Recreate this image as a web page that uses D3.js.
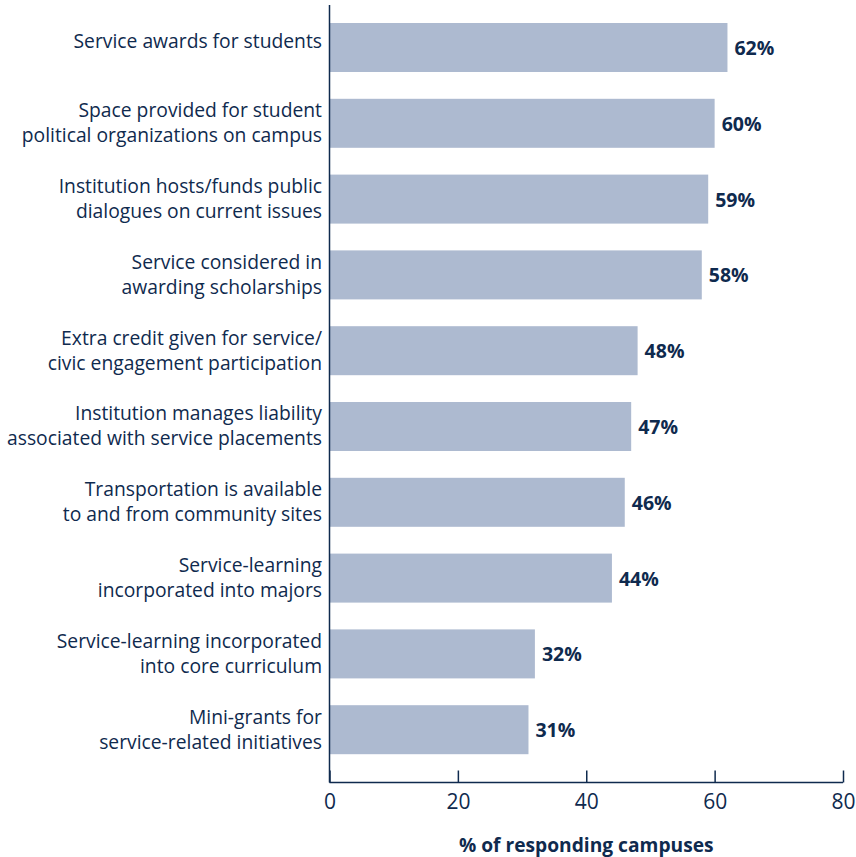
<!DOCTYPE html>
<html><head><meta charset="utf-8">
<script src="https://cdn.jsdelivr.net/npm/d3@7"></script>
<style>body{margin:0;background:#fff}svg{display:block}text{font-family:"Open Sans",sans-serif}</style>
</head><body><div id="chart"></div>
<script>
const categories = [
  ["Service awards for students"],
  ["Space provided for student", "political organizations on campus"],
  ["Institution hosts/funds public", "dialogues on current issues"],
  ["Service considered in", "awarding scholarships"],
  ["Extra credit given for service/", "civic engagement participation"],
  ["Institution manages liability", "associated with service placements"],
  ["Transportation is available", "to and from community sites"],
  ["Service-learning", "incorporated into majors"],
  ["Service-learning incorporated", "into core curriculum"],
  ["Mini-grants for", "service-related initiatives"]
];
const values = [62, 60, 59, 58, 48, 47, 46, 44, 32, 31];
const xTicks = [0, 20, 40, 60, 80];
const xTitle = "% of responding campuses";

const W = 856, H = 857;
const ink = "#0f2a4e", barColor = "#adbad0";
const svg = d3.select("#chart").append("svg").attr("width", W).attr("height", H);

const x = d3.scaleLinear().domain([0, 80]).range([329.5, 843]);
const step = 75.8, barH = 49;
const y = d3.scaleBand().domain(d3.range(values.length))
  .range([23, 23 + step*(values.length-1) + barH])
  .paddingInner(1 - barH/step).paddingOuter(0);

svg.append("g").selectAll("rect").data(values).join("rect")
  .attr("x", x(0)).attr("y", (d,i)=>y(i))
  .attr("width", d=>x(d)-x(0)).attr("height", y.bandwidth())
  .attr("fill", barColor);

// value labels
svg.append("g").selectAll("text").data(values).join("text")
  .attr("x", d=>x(d)+7).attr("y", (d,i)=>y(i)+y.bandwidth()/2)
  .attr("dy", "0.38em").attr("font-size", 19.5).attr("font-weight", 700)
  .attr("fill", ink).text(d=>d+"%");

// category labels
const lab = svg.append("g");
categories.forEach((lines, i) => {
  const cy = y(i) + y.bandwidth()/2 + (lines.length === 1 ? -6 : -0.5);
  const lh = 25;
  const t = lab.append("text").attr("text-anchor","end").attr("font-size", 19.3).attr("fill", ink);
  lines.forEach((ln, j) => {
    t.append("tspan").attr("x", 322)
      .attr("y", cy + (j - (lines.length-1)/2)*lh).attr("dy","0.36em").text(ln);
  });
});

// x axis
const axisY = 782.5;
const ax = svg.append("g").attr("transform", `translate(0,${axisY})`)
  .call(d3.axisBottom(x).tickValues(xTicks).tickSize(-12).tickPadding(0).tickFormat(d3.format("d")));
ax.select(".domain").attr("stroke", ink).attr("stroke-width", 1.5).attr("d", `M${x(0)},0H${x(80)}`);
ax.selectAll(".tick line").attr("stroke", ink).attr("stroke-width", 1.5);
ax.selectAll(".tick text").attr("font-size", 21).attr("fill", ink).attr("y", 26).attr("dy", 0)
  .style("font-family", '"Open Sans",sans-serif');

// y axis line
svg.append("line").attr("x1", x(0)).attr("x2", x(0)).attr("y1", 5).attr("y2", axisY)
  .attr("stroke", ink).attr("stroke-width", 1.5);

svg.append("text").attr("x", (x(0)+x(80))/2).attr("y", 852).attr("text-anchor","middle")
  .attr("font-size", 19.2).attr("font-weight", 700).attr("fill", ink).text(xTitle);
</script></body></html>
